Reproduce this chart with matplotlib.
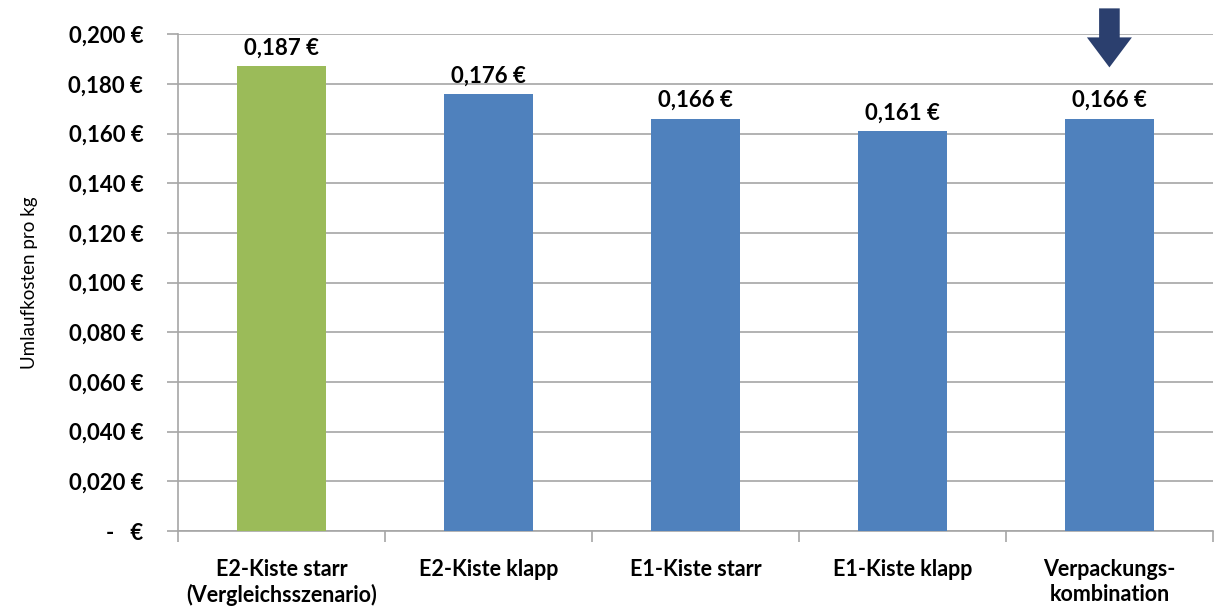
import matplotlib.pyplot as plt
from matplotlib.ticker import FuncFormatter, MultipleLocator, FixedLocator

plt.rcParams['font.family'] = ['Lato', 'DejaVu Sans']

categories = ['E2-Kiste starr\n(Vergleichsszenario)', 'E2-Kiste klapp', 'E1-Kiste starr',
              'E1-Kiste klapp', 'Verpackungs-\nkombination']
values = [0.187, 0.176, 0.166, 0.161, 0.166]
colors = ['#9BBB59', '#4F81BD', '#4F81BD', '#4F81BD', '#4F81BD']


def euro(v, pos=None):
    if abs(v) < 1e-9:
        return '-   €'
    return f'{v:.3f} €'.replace('.', ',')


fig = plt.figure(figsize=(12.19, 6.10), dpi=100)
ax = fig.add_axes([0.146, 0.1295, 0.849, 0.8145])

x = list(range(len(categories)))
ax.bar(x, values, width=0.43, color=colors, zorder=3)

for xi, v in zip(x, values):
    ax.text(xi, v + 0.003, euro(v), ha='center', va='bottom',
            fontsize=16, fontweight='bold', color='black')

ax.set_xlim(-0.5, len(categories) - 0.5)
ax.set_ylim(0, 0.2)
ax.yaxis.set_major_locator(MultipleLocator(0.02))
ax.yaxis.set_major_formatter(FuncFormatter(euro))
ax.grid(axis='y', color='#A6A6A6', linewidth=1.2, zorder=0)

# category labels centred, tick marks between categories
ax.set_xticks(x)
ax.set_xticklabels(categories, fontsize=15.5, fontweight='bold', linespacing=1.25)
ax.tick_params(axis='x', length=0, pad=20)
ax.xaxis.set_minor_locator(FixedLocator([i - 0.5 for i in range(len(categories) + 1)]))
ax.tick_params(axis='x', which='minor', length=8, width=1.2, color='#A6A6A6', direction='out')
ax.tick_params(axis='y', length=8, width=1.2, color='#A6A6A6', direction='out',
               labelsize=16, pad=17)
for lbl in ax.get_yticklabels():
    lbl.set_fontweight('bold')

for side in ['top', 'right']:
    ax.spines[side].set_visible(False)
for side in ['left', 'bottom']:
    ax.spines[side].set_color('#A6A6A6')
    ax.spines[side].set_linewidth(1.2)

ax.set_ylabel('Umlaufkosten pro kg', fontsize=13.5, labelpad=22)

# arrow pointing at the packaging combination
ax.annotate('', xy=(4, 0.1855), xytext=(4, 0.2115), annotation_clip=False,
            arrowprops=dict(arrowstyle='simple,head_length=0.8,head_width=1.2,tail_width=0.55',
                            color='#2B3F6E', lw=0, mutation_scale=27))

fig.savefig('out.png', dpi=100)
